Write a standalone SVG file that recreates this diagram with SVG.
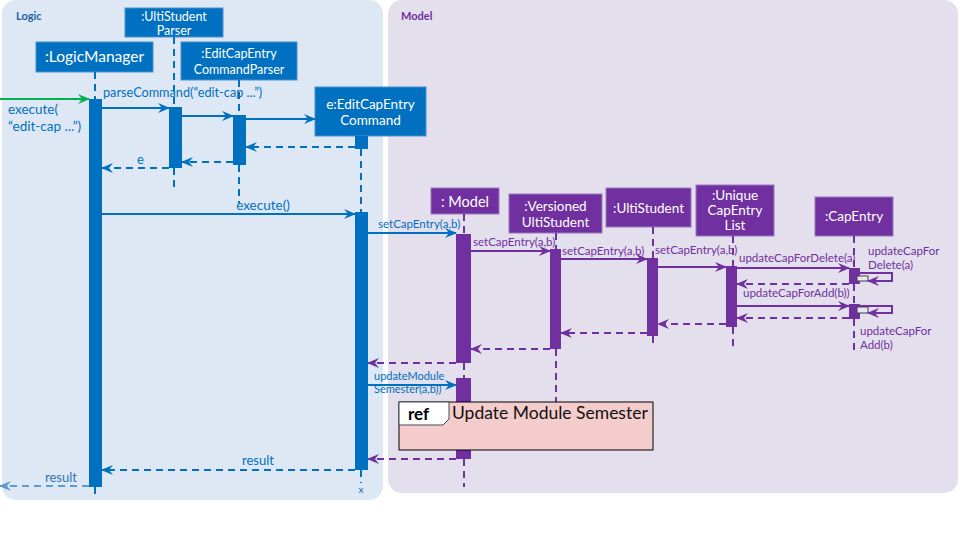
<svg xmlns="http://www.w3.org/2000/svg" width="960" height="540" viewBox="0 0 960 540">
<style>
text{font-family:Lato,"Liberation Sans",sans-serif}
.bb{fill:#0070c0;stroke:#4a90d0;stroke-width:1}
.pb{fill:#7030a0;stroke:#9a78c0;stroke-width:1}
.bt{fill:#fff;text-anchor:middle}
.ba{fill:#0070c0}
.pa{fill:#7030a0}
.bl{stroke:#0070c0;stroke-width:2;stroke-dasharray:7 5;fill:none}
.pl{stroke:#7030a0;stroke-width:2;stroke-dasharray:7 5;fill:none}
.bs{stroke:#0070c0;stroke-width:2;fill:none;marker-end:url(#mB)}
.bd{stroke:#0070c0;stroke-width:2;stroke-dasharray:7 5;fill:none;marker-end:url(#mB)}
.ps{stroke:#7030a0;stroke-width:2;fill:none;marker-end:url(#mP)}
.pd{stroke:#7030a0;stroke-width:2;stroke-dasharray:7 5;fill:none;marker-end:url(#mP)}
.blab{fill:#0070c0}
.plab{fill:#7030a0}
</style>
<defs>
<marker id="mB" viewBox="0 0 12 10" refX="11" refY="5" markerWidth="12" markerHeight="10" markerUnits="userSpaceOnUse" orient="auto"><path d="M0,0 L12,5 L0,10 L4,5 z" fill="#0070c0"/></marker>
<marker id="mP" viewBox="0 0 12 10" refX="11" refY="5" markerWidth="12" markerHeight="10" markerUnits="userSpaceOnUse" orient="auto"><path d="M0,0 L12,5 L0,10 L4,5 z" fill="#7030a0"/></marker>
<marker id="mG" viewBox="0 0 12 10" refX="11" refY="5" markerWidth="12" markerHeight="10" markerUnits="userSpaceOnUse" orient="auto"><path d="M0,0 L12,5 L0,10 L4,5 z" fill="#00b050"/></marker>
<marker id="mL" viewBox="0 0 12 10" refX="11" refY="5" markerWidth="12" markerHeight="10" markerUnits="userSpaceOnUse" orient="auto"><path d="M0,0 L12,5 L0,10 L4,5 z" fill="#5b9bd5"/></marker>
</defs>
<rect width="960" height="540" fill="#fff"/>
<g id="frame-logic">
<rect x="2" y="0" width="381" height="500" rx="14" fill="#dde8f4"/>
<text x="16" y="20" font-size="11" font-weight="bold" fill="#1f5fa8">Logic</text>
</g>
<g id="frame-model">
<rect x="388" y="0" width="570" height="493" rx="14" fill="#e4dfec"/>
<text x="401" y="20" font-size="11" font-weight="bold" fill="#7030a0">Model</text>
</g>

<g id="logicmanager">
<rect class="bb" x="36" y="42" width="117" height="30"/>
<text class="bt" x="94.5" y="62" font-size="15.5">:LogicManager</text>
<line class="bl" x1="95" y1="72" x2="95" y2="99"/>
<line class="bl" x1="95" y1="487" x2="95" y2="496"/>
<rect class="ba" x="89" y="99" width="13" height="388"/>
</g>
<g id="ultistudentparser">
<rect class="bb" x="125" y="8" width="98" height="29"/>
<text class="bt" x="174" y="21" font-size="12.5">:UltiStudent</text>
<text class="bt" x="174" y="35" font-size="12.5">Parser</text>
<line class="bl" x1="174" y1="37" x2="174" y2="107"/>
<line class="bl" x1="174" y1="168" x2="174" y2="187"/>
<rect class="ba" x="169" y="107" width="13" height="61"/>
</g>
<g id="editcapentrycommandparser">
<rect class="bb" x="181" y="42" width="116" height="38"/>
<text class="bt" x="239" y="58" font-size="12.5">:EditCapEntry</text>
<text class="bt" x="239" y="74" font-size="12.5">CommandParser</text>
<line class="bl" x1="239" y1="80" x2="239" y2="115"/>
<line class="bl" x1="239" y1="165" x2="239" y2="203"/>
<rect class="ba" x="233" y="115" width="13" height="50"/>
</g>
<g id="editcapentrycommand">
<line class="bl" x1="361" y1="149" x2="361" y2="212"/>
<line class="bl" x1="361" y1="470" x2="361" y2="483"/>
<rect class="bb" x="315" y="87" width="111" height="49"/>
<text class="bt" x="370.5" y="109" font-size="13.5">e:EditCapEntry</text>
<text class="bt" x="370.5" y="125" font-size="13.5">Command</text>
<rect class="ba" x="355" y="136" width="13" height="13"/>
<rect class="ba" x="355" y="212" width="13" height="258"/>
<text x="361" y="493" font-size="10" text-anchor="middle" fill="#0070c0">x</text>
</g>

<g id="model">
<rect class="pb" x="431" y="188" width="68" height="26"/>
<text class="bt" x="465" y="207" font-size="14.5">: Model</text>
<line class="pl" x1="464" y1="214" x2="464" y2="234"/>
<line class="pl" x1="464" y1="363" x2="464" y2="378"/>
<line class="pl" x1="464" y1="459" x2="464" y2="487"/>
<rect class="pa" x="456" y="234" width="15" height="129"/>
<rect class="pa" x="456" y="378" width="15" height="81"/>
</g>
<g id="versionedultistudent">
<rect class="pb" x="509" y="194" width="93" height="39"/>
<text class="bt" x="555.5" y="211" font-size="13.5">:Versioned</text>
<text class="bt" x="555.5" y="227" font-size="13.5">UltiStudent</text>
<line class="pl" x1="556" y1="233" x2="556" y2="249"/>
<line class="pl" x1="556" y1="349" x2="556" y2="402"/>
<rect class="pa" x="550" y="249" width="11" height="100"/>
</g>
<g id="ultistudent">
<rect class="pb" x="606" y="188" width="85" height="39"/>
<text class="bt" x="648.5" y="213" font-size="13.5">:UltiStudent</text>
<line class="pl" x1="653" y1="227" x2="653" y2="258"/>
<line class="pl" x1="653" y1="336" x2="653" y2="346"/>
<rect class="pa" x="647" y="258" width="11" height="78"/>
</g>
<g id="uniquecapentrylist">
<rect class="pb" x="696" y="185" width="78" height="51"/>
<text class="bt" x="735" y="200" font-size="13.5">:Unique</text>
<text class="bt" x="735" y="215" font-size="13.5">CapEntry</text>
<text class="bt" x="735" y="230" font-size="13.5">List</text>
<line class="pl" x1="733" y1="236" x2="733" y2="266"/>
<line class="pl" x1="733" y1="327" x2="733" y2="346"/>
<rect class="pa" x="726" y="266" width="11" height="61"/>
</g>
<g id="capentry">
<rect class="pb" x="815" y="197" width="78" height="39"/>
<text class="bt" x="854" y="221" font-size="13.5">:CapEntry</text>
<line class="pl" x1="854" y1="236" x2="854" y2="268"/>
<line class="pl" x1="854" y1="284" x2="854" y2="304"/>
<line class="pl" x1="854" y1="319" x2="854" y2="352"/>
<rect class="pa" x="849" y="268" width="11" height="16"/>
<rect class="pa" x="849" y="304" width="11" height="15"/>
<rect x="857" y="276" width="11" height="5" fill="#e8e6ee" stroke="#404050" stroke-width="1"/>
<rect x="857" y="307" width="11" height="6" fill="#e8e6ee" stroke="#404050" stroke-width="1"/>
</g>

<g id="connectors">
<line x1="0" y1="99" x2="89" y2="99" stroke="#00b050" stroke-width="2" marker-end="url(#mG)"/>
<line class="bs" x1="102" y1="108" x2="169" y2="108"/>
<line class="bs" x1="182" y1="116" x2="233" y2="116"/>
<line class="bs" x1="246" y1="119" x2="315" y2="119"/>
<line class="bd" x1="355" y1="147" x2="246" y2="147"/>
<line class="bd" x1="233" y1="162" x2="182" y2="162"/>
<line class="bd" x1="169" y1="168" x2="102" y2="168"/>
<line class="bs" x1="102" y1="214" x2="355" y2="214"/>
<line class="bs" x1="368" y1="233" x2="456" y2="233"/>
<line class="ps" x1="471" y1="251" x2="550" y2="251"/>
<line class="ps" x1="561" y1="259" x2="647" y2="259"/>
<line class="ps" x1="658" y1="267" x2="726" y2="267"/>
<line class="ps" x1="737" y1="268" x2="849" y2="268"/>
<path class="ps" d="M860,273 H892 V281 H868"/>
<line class="pd" x1="849" y1="284" x2="737" y2="284"/>
<line class="ps" x1="737" y1="306" x2="849" y2="306"/>
<path class="ps" d="M860,306 H892 V313 H868"/>
<line class="pd" x1="849" y1="318" x2="737" y2="318"/>
<line class="pd" x1="726" y1="324" x2="658" y2="324"/>
<line class="pd" x1="647" y1="333" x2="561" y2="333"/>
<line class="pd" x1="550" y1="349" x2="471" y2="349"/>
<line class="pd" x1="456" y1="363" x2="368" y2="363"/>
<line class="bs" x1="368" y1="385" x2="456" y2="385"/>
<line class="pd" x1="456" y1="459" x2="368" y2="459"/>
<line class="bd" x1="355" y1="470" x2="102" y2="470"/>
<line x1="89" y1="486" x2="0" y2="486" stroke="#5b9bd5" stroke-width="2" stroke-dasharray="7 5" marker-end="url(#mL)"/>

<text class="blab" x="8" y="114" font-size="13.5">execute(</text>
<text class="blab" x="8" y="131" font-size="13.5">“edit-cap ...”)</text>
<text class="blab" x="103" y="97" font-size="12.7">parseCommand(“edit-cap ...”)</text>
<text class="blab" x="137" y="164" font-size="13">e</text>
<text class="blab" x="263" y="210" font-size="13.5" text-anchor="middle">execute()</text>
<text class="blab" x="378" y="228" font-size="11.5">setCapEntry(a,b)</text>
<text class="plab" x="473" y="246" font-size="11.5">setCapEntry(a,b)</text>
<text class="plab" x="562" y="255" font-size="11.5">setCapEntry(a,b)</text>
<text class="plab" x="655" y="254" font-size="11.5">setCapEntry(a,b)</text>
<text class="plab" x="739" y="262" font-size="11.5">updateCapForDelete(a)</text>
<text class="plab" x="868" y="255" font-size="11.5">updateCapFor</text>
<text class="plab" x="868" y="269" font-size="11.5">Delete(a)</text>
<text class="plab" x="743" y="297" font-size="11.5">updateCapForAdd(b))</text>
<text class="plab" x="860" y="335" font-size="11.5">updateCapFor</text>
<text class="plab" x="860" y="349" font-size="11.5">Add(b)</text>
<text class="blab" x="374" y="380" font-size="11">updateModule</text>
<text class="blab" x="374" y="393" font-size="11">Semester(a,b))</text>
<text class="blab" x="258" y="465" font-size="13" text-anchor="middle">result</text>
<text x="45" y="482" font-size="13" fill="#2e75b6">result</text>
</g>

<g id="ref-update-module-semester">
<rect x="399" y="402" width="254" height="48" fill="#f4cccc" stroke="#000" stroke-width="1"/>
<path d="M399,402 H449 V419 L443,425 H399 Z" fill="#fff" stroke="#404858" stroke-width="1"/>
<text x="408" y="420" font-size="17" font-weight="bold" fill="#000">ref</text>
<text x="452" y="419" font-size="17.5" fill="#111">Update Module Semester</text>
</g>
</svg>
